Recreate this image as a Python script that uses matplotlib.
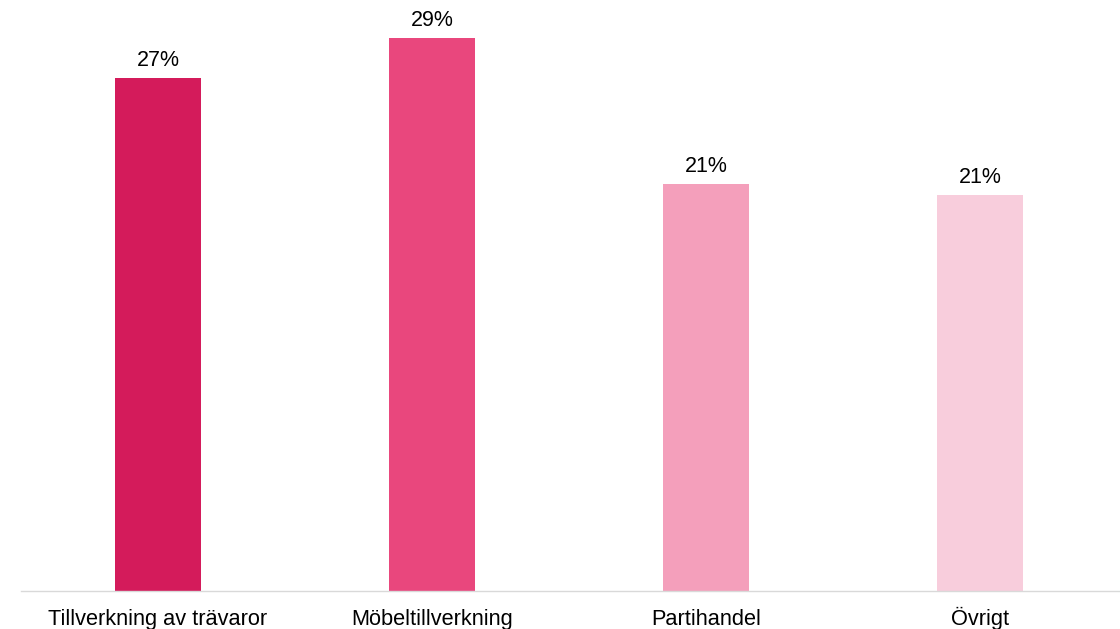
import matplotlib
matplotlib.use("Agg")
import matplotlib.pyplot as plt

categories = ["Tillverkning av trävaror", "Möbeltillverkning", "Partihandel", "Övrigt"]
values = [27.0, 29.1, 21.4, 20.85]
colors = ["#D41B5B", "#E9477D", "#F49FBB", "#F8CDDC"]

plt.rcParams["font.family"] = ["Liberation Sans", "DejaVu Sans"]

fig = plt.figure(figsize=(11.2, 6.29), dpi=100)
ax = fig.add_axes([21 / 1120, 38 / 629, 1099 / 1120, 591 / 629])

x = range(len(categories))
bars = ax.bar(x, values, width=0.314, color=colors)

for rect, v in zip(bars, values):
    ax.annotate(f"{v:.0f}%", (rect.get_x() + rect.get_width() / 2, v),
                xytext=(0, 8.6), textcoords="offset points",
                ha="center", va="baseline", fontsize=15.5, color="#000000")

ax.set_xlim(-0.5, 3.51)
ax.set_ylim(0, 31.1)
ax.set_xticks(list(x))
ax.set_xticklabels(categories, fontsize=15.7, va="baseline")
ax.tick_params(axis="x", length=0, pad=24.5)
ax.set_yticks([])
for side in ("left", "right", "top"):
    ax.spines[side].set_visible(False)
ax.spines["bottom"].set_color("#D9D9D9")
ax.spines["bottom"].set_linewidth(1)

fig.savefig("out.png", dpi=100)
